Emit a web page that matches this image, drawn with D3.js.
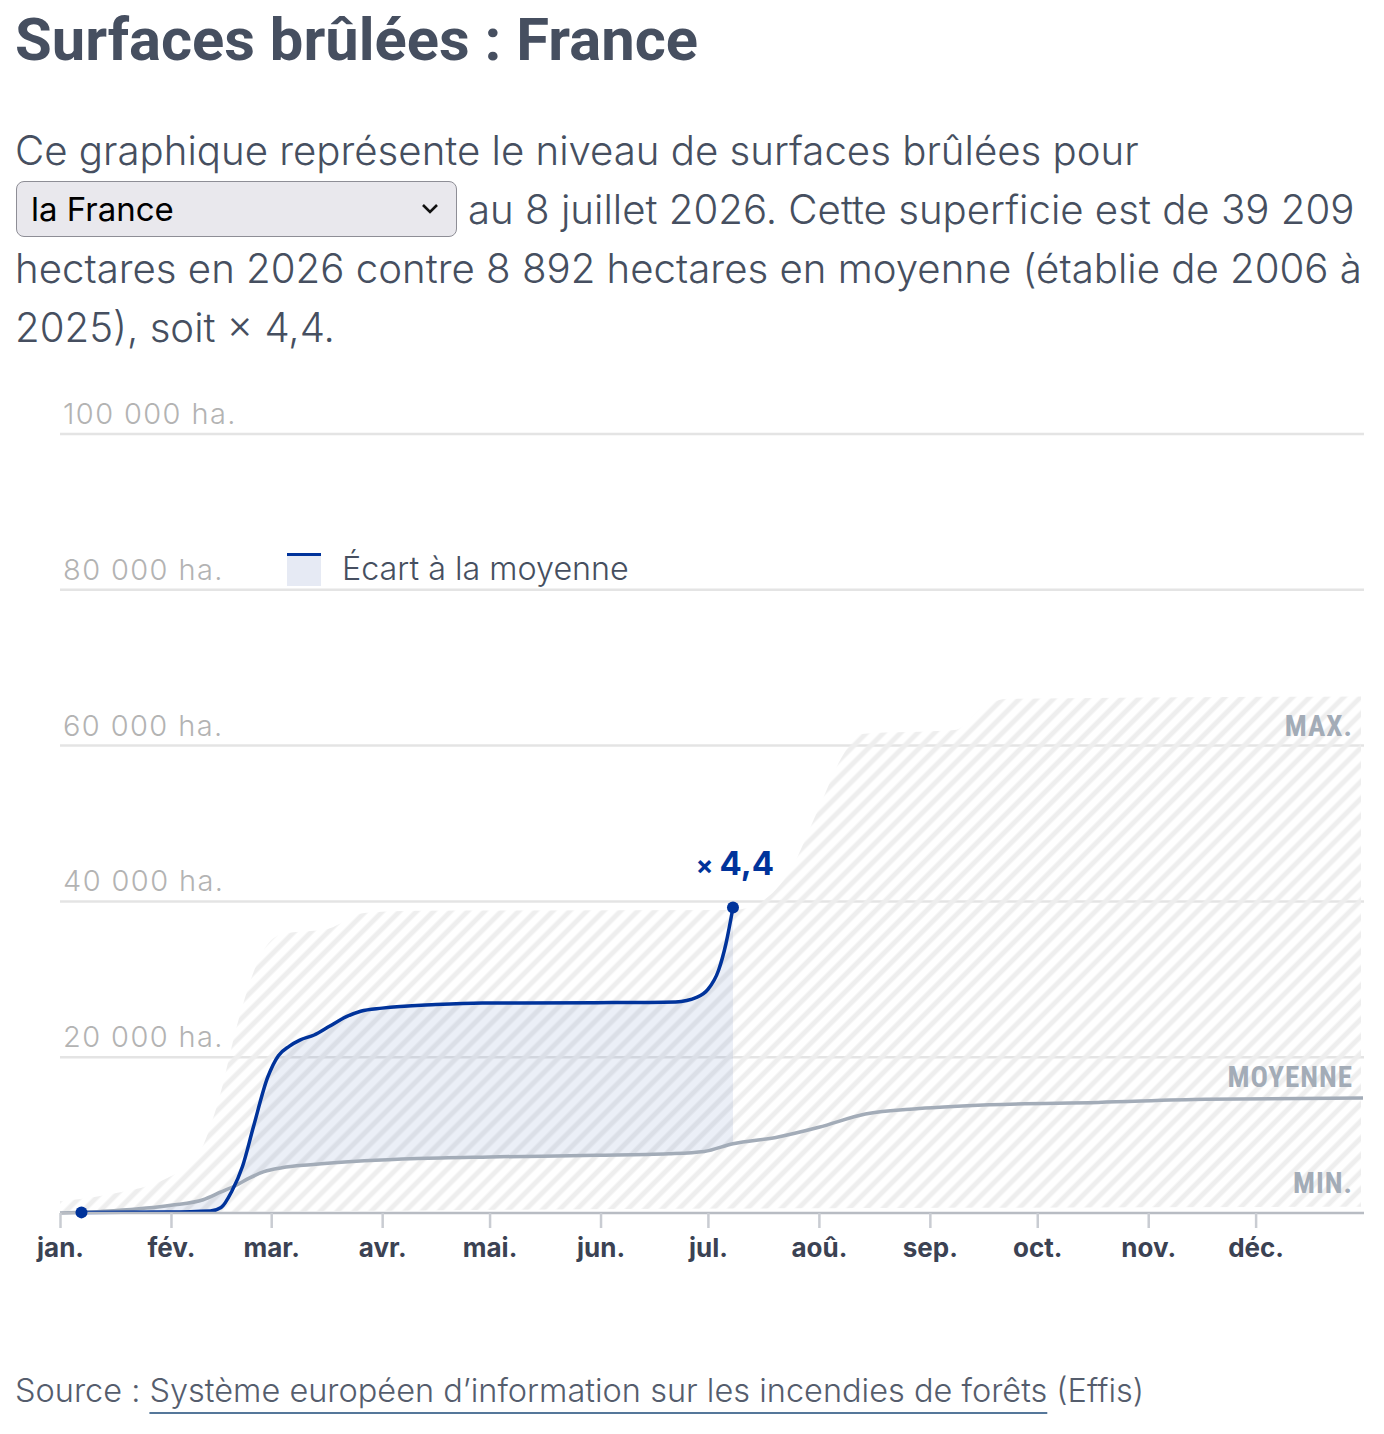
<!DOCTYPE html>
<html lang="fr">
<head>
<meta charset="utf-8">
<script src="https://cdn.jsdelivr.net/npm/d3@7"></script>
<style>
  body { margin: 0; background: #fff; width: 1384px; height: 1434px; position: relative; overflow: hidden; }
  svg { position: absolute; left: 0; top: 0; }
  #pick {
    position: absolute; left: 16px; top: 181px; width: 441px; height: 56px;
    box-sizing: border-box; border: 1.5px solid #8e8e96; border-radius: 8px;
    background: #e9e8ed; font-family: Inter, "Noto Sans", sans-serif; font-size: 33px;
    color: #000; padding: 0 0 0 14px; -webkit-appearance: none; appearance: none;
  }
  #chev { position: absolute; left: 420px; top: 200px; pointer-events: none; }
</style>
</head>
<body>
<svg id="chart" width="1384" height="1434"></svg>
<select id="pick"><option>la France</option></select>
<svg id="chev" width="20" height="18"><path d="M3,5 L10,12 L17,5" fill="none" stroke="#111" stroke-width="2.6"/></svg>
<script>
// Surfaces brûlées : cumul 2026 vs moyenne / min / max 2006-2025
const monthLabels = ["jan.", "fév.", "mar.", "avr.", "mai.", "jun.", "jul.", "aoû.", "sep.", "oct.", "nov.", "déc."];
const yTicks = [0, 20000, 40000, 60000, 80000, 100000];

// day of year (0 = 1er janvier) / hectares cumulés
const curDays   = [6, 30, 42, 45, 48, 51, 54, 58, 61, 64, 67, 71, 75, 80, 84, 90, 105, 118, 150, 172, 178, 181, 184, 186, 188];
const curValues = [80, 120, 250, 700, 2800, 6000, 11000, 17400, 20200, 21400, 22200, 22850, 23900, 25200, 25900, 26300, 26750, 26950, 27000, 27100, 27700, 28700, 31200, 34500, 39209];

const avgDays   = [0, 15, 31, 40, 45, 49, 53, 57, 62, 70, 85, 100, 120, 150, 170, 180, 188, 200, 212, 225, 240, 260, 290, 320, 364];
const avgValues = [0, 300, 1000, 1700, 2700, 3500, 4500, 5300, 5800, 6200, 6700, 7000, 7200, 7400, 7600, 7900, 8892, 9700, 11000, 12700, 13400, 13900, 14200, 14600, 14750];

const maxDays   = [0, 15, 30, 38, 44, 50, 56, 62, 75, 85, 100, 188, 196, 204, 212, 219, 224, 250, 258, 265, 364];
const maxValues = [1500, 2500, 4500, 7000, 14000, 25000, 33000, 35800, 36500, 38500, 38800, 38900, 40000, 44000, 52000, 59000, 61500, 62000, 65000, 66000, 66300];

const minDays   = [0, 60, 120, 200, 364];
const minValues = [0, 200, 400, 600, 800];

const currentDay = 188, currentValue = 39209, ratioLabel = "4,4";

const title = "Surfaces brûlées : France";
const textLines = [
  "Ce graphique représente le niveau de surfaces brûlées pour",
  "au 8 juillet 2026. Cette superficie est de 39 209",
  "hectares en 2026 contre 8 892 hectares en moyenne (établie de 2006 à",
  "2025), soit × 4,4."
];

const year0 = new Date(2026, 0, 1);
const toDate = d => d3.timeDay.offset(year0, d);

const x = d3.scaleTime().domain([year0, new Date(2026, 11, 31)]).range([60, 1363]);
const y = d3.scaleLinear().domain([0, 100000]).range([1213, 434]);

const svg = d3.select("#chart");
const bodyFont = "Inter, 'Noto Sans', sans-serif";
const ink = "#464f60";
const blue = "#00339b";

// Title + intro
svg.append("text").attr("x", 15).attr("y", 60)
  .attr("font-family", "Roboto, 'Liberation Sans Narrow', sans-serif")
  .attr("font-weight", 700).attr("font-size", 60)
  .attr("textLength", 683).attr("lengthAdjust", "spacingAndGlyphs")
  .attr("fill", ink).text(title);

const lineX = [15, 468, 15, 15];
textLines.forEach((t, i) => {
  svg.append("text").attr("x", lineX[i]).attr("y", 165 + i * 59)
    .attr("font-family", bodyFont).attr("font-weight", 300).attr("font-size", 40.2)
    .attr("fill", ink).text(t);
});

// hatch pattern for min-max band
const defs = svg.append("defs");
const pat = defs.append("pattern").attr("id", "hatch")
  .attr("width", 12).attr("height", 12).attr("patternUnits", "userSpaceOnUse")
  .attr("patternTransform", "rotate(45)");
pat.append("line").attr("x1", 3).attr("y1", 0).attr("x2", 3).attr("y2", 12)
  .attr("stroke", "#eeeeee").attr("stroke-width", 5);
defs.append("clipPath").attr("id", "plotclip").append("rect")
  .attr("x", 60).attr("y", 380).attr("width", 1301).attr("height", 833);

// gridlines
const grid = svg.append("g");
yTicks.filter(v => v > 0).forEach(v => {
  grid.append("line").attr("x1", 60).attr("x2", 1364).attr("y1", y(v)).attr("y2", y(v))
    .attr("stroke", "#e4e4e4").attr("stroke-width", 2.5);
  grid.append("text").attr("x", 63).attr("y", y(v) - 10)
    .attr("font-family", bodyFont).attr("font-weight", 300).attr("font-size", 29)
    .attr("letter-spacing", 1.4)
    .attr("fill", "#b3b3b3").text(d3.format(",")(v).replace(/,/g, " ") + " ha.");
});

// min / max band
const band = maxDays.map((d, i) => ({ d, v: maxValues[i] }));
const minInterp = d => {
  const k = d3.bisectLeft(minDays, d);
  if (k <= 0) return minValues[0];
  if (k >= minDays.length) return minValues[minValues.length - 1];
  const t = (d - minDays[k - 1]) / (minDays[k] - minDays[k - 1]);
  return minValues[k - 1] + t * (minValues[k] - minValues[k - 1]);
};
svg.append("path").datum(band)
  .attr("clip-path", "url(#plotclip)")
  .attr("fill", "url(#hatch)")
  .attr("d", d3.area().curve(d3.curveMonotoneX)
    .x(p => x(toDate(p.d))).y0(p => y(minInterp(p.d))).y1(p => y(p.v)));

// écart à la moyenne
const avgAt = d => {
  const k = d3.bisectLeft(avgDays, d);
  if (avgDays[k] === d) return avgValues[k];
  const t = (d - avgDays[k - 1]) / (avgDays[k] - avgDays[k - 1]);
  return avgValues[k - 1] + t * (avgValues[k] - avgValues[k - 1]);
};
const cur = curDays.map((d, i) => ({ d, v: curValues[i], a: avgAt(d) }));
svg.append("path").datum(cur)
  .attr("fill", blue).attr("fill-opacity", 0.08)
  .attr("d", d3.area().curve(d3.curveMonotoneX)
    .x(p => x(toDate(p.d))).y0(p => y(p.a)).y1(p => y(p.v)));

// moyenne
const avg = avgDays.map((d, i) => ({ d, v: avgValues[i] }));
svg.append("path").datum(avg)
  .attr("fill", "none").attr("stroke", "#a3acb8").attr("stroke-width", 3.5)
  .attr("d", d3.line().curve(d3.curveMonotoneX).x(p => x(toDate(p.d))).y(p => y(p.v)));

// 2026
svg.append("path").datum(cur)
  .attr("fill", "none").attr("stroke", blue).attr("stroke-width", 3.5)
  .attr("d", d3.line().curve(d3.curveMonotoneX).x(p => x(toDate(p.d))).y(p => y(p.v)));

// x axis
const axis = svg.append("g").attr("transform", `translate(0,${y(0)})`)
  .call(d3.axisBottom(x).ticks(d3.timeMonth.every(1)).tickSize(15).tickFormat((d, i) => monthLabels[i]));
axis.select(".domain").attr("stroke", "#b8bcc3").attr("stroke-width", 2.5).attr("d", "M60,0H1364");
axis.selectAll(".tick line").attr("stroke", "#c9ccd2").attr("stroke-width", 2.5);
axis.selectAll(".tick text").attr("y", 26).attr("dy", "0.71em")
  .attr("font-family", bodyFont).attr("font-weight", 700).attr("font-size", 26).attr("fill", "#3b4253");

// dots
svg.append("circle").attr("cx", x(toDate(curDays[0]))).attr("cy", y(curValues[0])).attr("r", 6).attr("fill", blue);
svg.append("circle").attr("cx", x(toDate(currentDay))).attr("cy", y(currentValue)).attr("r", 6).attr("fill", blue);

const lab = svg.append("text").attr("x", x(toDate(currentDay)) + 2).attr("y", y(currentValue) - 33)
  .attr("text-anchor", "middle").attr("font-family", bodyFont).attr("font-weight", 700).attr("fill", blue);
lab.append("tspan").attr("font-size", 26).text("× ");
lab.append("tspan").attr("font-size", 33).text(ratioLabel);

// band labels
const condensed = "'Liberation Sans Narrow', 'Roboto Condensed', Roboto, sans-serif";
[["MAX.", 736], ["MOYENNE", 1087], ["MIN.", 1193]].forEach(([t, yy]) => {
  svg.append("text").attr("x", 1353).attr("y", yy).attr("text-anchor", "end")
    .attr("font-family", condensed).attr("font-weight", 700).attr("font-size", 29)
    .attr("letter-spacing", 1).attr("fill", "#a3acb7").text(t);
});

// legend
svg.append("rect").attr("x", 287).attr("y", 553).attr("width", 34).attr("height", 33)
  .attr("fill", "#e6eaf4");
svg.append("line").attr("x1", 287).attr("x2", 321).attr("y1", 554.5).attr("y2", 554.5)
  .attr("stroke", blue).attr("stroke-width", 3);
svg.append("text").attr("x", 342).attr("y", 580).attr("font-family", bodyFont)
  .attr("font-weight", 300).attr("font-size", 32.3).attr("fill", ink).text("Écart à la moyenne");

// source
const srcY = 1402;
const srcFont = sel => sel.attr("y", srcY).attr("font-family", bodyFont)
  .attr("font-weight", 300).attr("font-size", 32.5).attr("fill", "#555d6d");
const s1 = svg.append("text").attr("x", 15).call(srcFont).text("Source :");
const x2 = 15 + s1.node().getComputedTextLength() + 9;
const s2 = svg.append("text").attr("x", x2).call(srcFont)
  .text("Système européen d’information sur les incendies de forêts");
const w2 = s2.node().getComputedTextLength();
svg.append("line").attr("x1", x2).attr("x2", x2 + w2).attr("y1", srcY + 11).attr("y2", srcY + 11)
  .attr("stroke", "#1d4a78").attr("stroke-width", 1.5);
svg.append("text").attr("x", x2 + w2 + 9).call(srcFont).text("(Effis)");
</script>
</body>
</html>
